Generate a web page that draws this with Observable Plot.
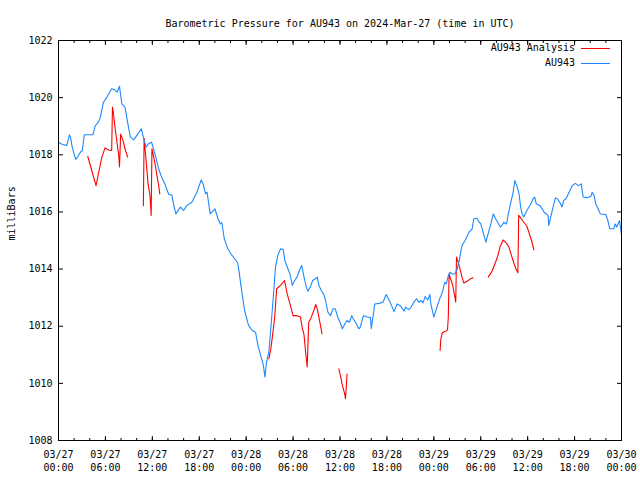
<!DOCTYPE html>
<html>
<head>
<meta charset="utf-8">
<script src="https://cdn.jsdelivr.net/npm/d3@7"></script>
<script src="https://cdn.jsdelivr.net/npm/@observablehq/plot@0.6"></script>
<style>
  html, body { margin: 0; padding: 0; background: #fff; }
  #wrap { position: relative; width: 640px; height: 480px; }
  #legend { position: absolute; left: 0; top: 0; width: 640px; height: 80px; pointer-events: none;
    font-family: "DejaVu Sans Mono", monospace; font-size: 10px; color: #000; }
  .lrow { position: absolute; right: 65px; height: 12px; line-height: 12px; text-align: right; white-space: pre; }
  .lline { position: absolute; left: 581px; width: 29px; height: 1px; }
</style>
</head>
<body>
<div id="wrap"><div id="legend"></div></div>
<script>
const titleText = "Barometric Pressure for AU943 on 2024-Mar-27 (time in UTC)";
const yLabel = "milliBars";
const seriesNames = ["AU943 Analysis", "AU943"];
const seriesColors = ["#ff0000", "#1e88ff"];
const startDate = "2024-03-27T00:00:00Z";
const endDate = "2024-03-30T00:00:00Z";
const yTicks = [1008, 1010, 1012, 1014, 1016, 1018, 1020, 1022];

// AU943 (hours since start, pressure mb)
const blueHours = [0,0.5,1.07,1.4,1.55,1.75,2.2,2.5,2.8,3.05,3.3,4.4,4.7,5.0,5.3,5.75,6.2,6.8,7.15,7.5,7.8,8.1,8.5,8.95,9.2,9.6,10.0,10.6,10.9,11.2,11.5,11.9,12.4,12.8,13.2,13.6,14.1,14.5,14.7,15.0,15.6,16.0,16.4,17.05,17.7,18.25,18.5,18.8,19.0,19.4,20.0,20.4,20.7,20.9,21.2,21.6,22.0,22.5,22.9,23.1,23.3,23.8,24.3,24.8,25.2,25.5,25.8,26.2,26.4,26.6,26.9,27.2,27.5,27.75,28.05,28.4,28.75,28.95,29.25,29.6,29.9,30.2,30.5,30.8,31.1,31.4,31.7,31.9,32.2,32.5,32.9,33.1,33.3,33.6,33.9,34.15,34.45,34.8,35.1,35.4,35.7,36.0,36.3,36.6,36.9,37.2,37.5,37.7,38.1,38.4,38.6,39.0,39.5,39.9,40.0,40.2,40.45,41.0,41.5,41.9,42.3,42.6,42.9,43.3,43.7,44.2,44.4,44.8,45.1,45.45,45.8,46.1,46.4,46.6,46.9,47.2,47.5,47.6,48.0,48.4,48.8,49.1,49.4,49.6,49.8,50.05,50.3,50.7,51.0,51.2,51.4,51.6,52.0,52.5,52.9,53.1,53.5,53.8,54.0,54.3,54.65,55.0,55.3,55.6,55.9,56.2,56.5,56.7,56.95,57.3,57.45,57.8,58.15,58.35,58.6,58.9,59.1,59.3,59.5,59.9,60.4,60.7,60.9,61.1,61.6,62.1,62.6,62.7,62.95,63.25,63.55,63.8,64.1,64.4,64.6,64.9,65.3,65.7,66.1,66.5,66.85,67.1,67.6,68.1,68.25,68.5,68.7,68.9,69.1,69.3,70.0,70.25,70.5,71.0,71.2,71.4,71.75,72.0];
const bluePressure = [1018.44,1018.36,1018.33,1018.70,1018.60,1018.27,1017.84,1017.95,1018.09,1018.15,1018.70,1018.70,1019.02,1019.10,1019.26,1019.84,1020.02,1020.31,1020.28,1020.19,1020.40,1019.78,1019.67,1018.97,1018.62,1018.52,1018.67,1018.91,1018.56,1018.27,1018.39,1018.44,1017.97,1017.51,1017.21,1016.98,1016.61,1016.59,1016.28,1015.93,1016.17,1016.05,1016.22,1016.34,1016.69,1017.12,1016.98,1016.63,1016.69,1015.93,1016.11,1015.76,1015.58,1015.62,1015.06,1014.75,1014.55,1014.37,1014.23,1013.90,1013.48,1012.55,1012.03,1011.85,1011.79,1011.33,1011.03,1010.63,1010.22,1010.74,1011.09,1012.08,1013.13,1014.07,1014.48,1014.71,1014.68,1014.30,1014.07,1013.83,1013.43,1013.60,1013.72,1013.95,1014.13,1013.72,1013.37,1013.22,1013.37,1013.60,1013.67,1013.72,1013.43,1013.25,1013.13,1012.90,1012.49,1012.37,1012.61,1012.61,1012.32,1012.14,1011.91,1012.07,1012.20,1012.14,1012.37,1012.25,1012.08,1011.91,1011.97,1012.37,1012.32,1012.30,1011.91,1012.30,1012.78,1012.80,1012.84,1013.11,1012.90,1012.72,1012.51,1012.78,1012.72,1012.53,1012.67,1012.58,1012.67,1012.84,1012.96,1012.84,1012.90,1012.81,1013.04,1012.92,1013.11,1012.80,1012.32,1012.67,1013.00,1013.19,1013.54,1013.48,1013.72,1013.89,1013.83,1013.83,1014.01,1014.24,1014.53,1014.83,1015.00,1015.29,1015.41,1015.76,1015.78,1015.64,1015.58,1015.29,1014.94,1015.29,1015.58,1015.93,1015.76,1015.62,1015.47,1015.53,1015.64,1015.58,1015.82,1016.28,1016.69,1017.10,1016.93,1016.63,1016.17,1015.93,1015.82,1016.05,1016.28,1016.46,1016.52,1016.28,1016.22,1015.99,1015.88,1015.53,1015.82,1016.17,1016.49,1016.46,1016.34,1016.17,1016.40,1016.46,1016.69,1016.92,1017.00,1016.92,1016.98,1016.52,1016.50,1016.55,1016.69,1016.58,1016.28,1016.17,1016.05,1015.93,1015.91,1015.70,1015.41,1015.41,1015.58,1015.47,1015.70,1015.20];

// AU943 Analysis (null = gap)
const redHours = [3.75,4.25,4.8,5.1,5.55,5.95,6.4,6.8,6.9,7.0,7.25,7.45,7.7,7.8,7.95,8.1,8.3,8.5,8.85,9.5,10.85,10.95,11.2,11.45,11.7,11.85,11.95,12.15,12.4,12.6,12.8,12.95,20,26.9,27.15,27.4,27.65,27.9,28.4,28.9,29.25,29.6,30.0,30.5,30.95,31.15,31.4,31.6,31.7,31.8,31.9,32.0,32.3,32.65,32.9,33.1,33.3,33.5,33.7,34.5,35.85,36.1,36.3,36.6,36.7,36.8,36.9,42,48.8,48.9,49.1,49.5,49.75,49.85,49.95,50.15,50.4,50.6,50.8,50.9,51.1,51.35,51.6,51.85,52.3,52.7,53.0,54,54.95,55.4,55.65,56.05,56.3,56.5,56.85,57.3,57.6,57.9,58.2,58.5,58.75,58.85,59.2,59.5,59.9,60.15,60.5,60.8];
const redPressure = [1017.94,1017.45,1016.92,1017.33,1017.92,1018.24,1018.17,1018.15,1019.67,1019.50,1018.91,1018.50,1017.98,1017.57,1018.73,1018.62,1018.45,1018.21,1017.92,null,1016.22,1018.58,1017.80,1017.00,1016.57,1015.88,1018.21,1017.95,1017.60,1017.25,1016.95,1016.63,null,1010.86,1011.20,1011.73,1012.32,1013.31,1013.43,1013.60,1013.13,1012.78,1012.37,1012.37,1012.32,1011.97,1011.70,1011.09,1010.86,1010.57,1011.33,1012.14,1012.30,1012.55,1012.76,1012.60,1012.32,1012.03,1011.73,null,1010.51,1010.22,1009.93,1009.63,1009.46,1009.87,1010.33,null,1011.15,1011.56,1011.78,1011.82,1011.87,1012.32,1013.83,1013.65,1013.45,1013.15,1012.84,1014.42,1014.25,1014.00,1013.72,1013.51,1013.58,1013.66,1013.70,null,1013.72,1013.90,1014.07,1014.35,1014.59,1014.80,1015.02,1014.90,1014.77,1014.50,1014.24,1014.00,1013.87,1015.88,1015.76,1015.64,1015.50,1015.29,1015.00,1014.67];

const t0 = new Date(startDate).getTime();
const toDate = h => new Date(t0 + h * 3600e3);
const blue = blueHours.map((h, i) => ({t: toDate(h), p: bluePressure[i]}));
const red = redHours.map((h, i) => ({t: toDate(h), p: redPressure[i]}));

const font = "DejaVu Sans Mono";
const major = d3.utcHour.every(6);
const minor = d3.utcHour.every(2);
const noText = () => "";
const chart = Plot.plot({
  width: 640,
  height: 480,
  marginLeft: 58,
  marginRight: 19,
  marginTop: 40,
  marginBottom: 40,
  style: {fontFamily: font, fontSize: "10px", background: "#fff", color: "#000"},
  x: {type: "utc", domain: [new Date(startDate), new Date(endDate)]},
  y: {domain: [1008, 1022]},
  marks: [
    Plot.line(red, {x: "t", y: "p", stroke: seriesColors[0], strokeWidth: 1.1}),
    Plot.line(blue, {x: "t", y: "p", stroke: seriesColors[1], strokeWidth: 1.1}),
    Plot.axisX({anchor: "bottom", ticks: major, tickFormat: d3.utcFormat("%m/%d\n%H:%M"),
      tickSize: 0, tickPadding: 9, lineHeight: 1.25, label: null, fontSize: 10}),
    // inward ticks (shifted back inside the frame)
    Plot.axisX({anchor: "bottom", ticks: major, tickSize: 4, dy: -4, tickFormat: noText, label: null}),
    Plot.axisX({anchor: "bottom", ticks: minor, tickSize: 2, dy: -2, tickFormat: noText, label: null}),
    Plot.axisX({anchor: "top", ticks: major, tickSize: 4, dy: 4, tickFormat: noText, label: null}),
    Plot.axisX({anchor: "top", ticks: minor, tickSize: 2, dy: 2, tickFormat: noText, label: null}),
    Plot.axisY({anchor: "left", ticks: yTicks, tickSize: 0, tickPadding: 6, tickFormat: d => String(d), label: null, fontSize: 10}),
    Plot.axisY({anchor: "left", ticks: yTicks, tickSize: 5, dx: 5, tickFormat: noText, label: null}),
    Plot.axisY({anchor: "right", ticks: yTicks, tickSize: 5, dx: -5, tickFormat: noText, label: null}),
    Plot.frame({stroke: "#000", strokeWidth: 1}),
    Plot.text([titleText], {frameAnchor: "top", dy: -21, text: d => d, fontSize: 10}),
    Plot.text([yLabel], {frameAnchor: "left", dx: -47, rotate: -90, text: d => d, fontSize: 10})
  ]
});
document.getElementById("wrap").prepend(chart);

const legend = document.getElementById("legend");
seriesNames.forEach((name, i) => {
  const cy = 48 + i * 15;
  const row = document.createElement("div");
  row.className = "lrow";
  row.style.top = (cy - 6) + "px";
  row.textContent = name;
  legend.appendChild(row);
  const ln = document.createElement("div");
  ln.className = "lline";
  ln.style.top = cy + "px";
  ln.style.background = seriesColors[i];
  legend.appendChild(ln);
});
</script>
</body>
</html>
